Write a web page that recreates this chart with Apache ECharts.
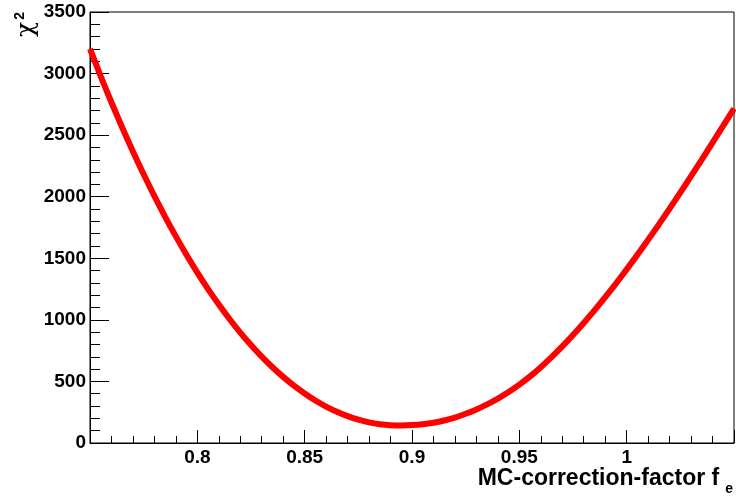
<!DOCTYPE html>
<html>
<head>
<meta charset="utf-8">
<title>chi2 scan</title>
<script src="https://cdn.jsdelivr.net/npm/echarts@6/dist/echarts.min.js"></script>
<style>
  html, body { margin: 0; padding: 0; background: #fff; }
  #chart { width: 736px; height: 498px; }
</style>
</head>
<body>
<div id="chart"></div>
<script>
// Scan of the electron MC-correction factor f_e against chi^2
const factorValues = [
  0.750, 0.755, 0.760, 0.765, 0.770, 0.775, 0.780, 0.785, 0.790, 0.795,
  0.800, 0.805, 0.810, 0.815, 0.820, 0.825, 0.830, 0.835, 0.840, 0.845,
  0.850, 0.855, 0.860, 0.865, 0.870, 0.875, 0.880, 0.885, 0.890, 0.895,
  0.900, 0.905, 0.910, 0.915, 0.920, 0.925, 0.930, 0.935, 0.940, 0.945,
  0.950, 0.955, 0.960, 0.965, 0.970, 0.975, 0.980, 0.985, 0.990, 0.995,
  1.000, 1.005, 1.010, 1.015, 1.020, 1.025, 1.030, 1.035, 1.040, 1.045,
  1.050
];
const chi2Values = [
  3200, 2978, 2765, 2562, 2367, 2182, 2005, 1837, 1678, 1527,
  1384, 1250, 1125, 1007, 897, 796, 701, 615, 537, 465,
  402, 345, 296, 254, 218, 190, 168, 153, 145, 143,
  146, 153, 165, 183, 207, 237, 273, 314, 361, 414,
  474, 541, 616, 697, 784, 877, 975, 1077, 1184, 1295,
  1410, 1528, 1650, 1775, 1903, 2034, 2167, 2302, 2439, 2577,
  2716
];
const xTicks = { min: 0.75, max: 1.05, step: 0.05 };
const yTicks = { min: 0, max: 3500, step: 500 };

const FONT = "'Liberation Sans', Arial, Helvetica, sans-serif";

const chart = echarts.init(document.getElementById('chart'), null, { renderer: 'canvas' });

chart.setOption({
  backgroundColor: '#ffffff',
  animation: false,
  grid: {
    left: 90, right: 1, top: 12, bottom: 55,
    show: true, borderColor: '#000', borderWidth: 1, backgroundColor: 'transparent'
  },
  xAxis: {
    type: 'value',
    min: xTicks.min, max: xTicks.max, interval: xTicks.step,
    axisLine: { show: true, onZero: false, lineStyle: { color: '#000', width: 1 } },
    axisTick: { show: true, inside: true, length: 13, lineStyle: { color: '#000' } },
    minorTick: { show: true, splitNumber: 5, length: 7, lineStyle: { color: '#000' } },
    splitLine: { show: false },
    axisLabel: {
      showMinLabel: false, showMaxLabel: false,
      margin: 5, color: '#000', fontFamily: FONT, fontWeight: 'bold', fontSize: 19,
      formatter: v => String(parseFloat(v.toFixed(2)))
    },
    name: '{a|MC-correction-factor f}{b|e}',
    nameLocation: 'end',
    nameGap: -1,
    nameTextStyle: {
      align: 'right', verticalAlign: 'top',
      padding: [24, 0, 0, 0],
      rich: {
        a: { fontFamily: FONT, fontWeight: 'bold', fontSize: 23, color: '#000', verticalAlign: 'top', lineHeight: 25 },
        b: { fontFamily: FONT, fontWeight: 'bold', fontSize: 14, color: '#000', verticalAlign: 'top', lineHeight: 14, padding: [15, 0, 0, 6] }
      }
    }
  },
  yAxis: {
    type: 'value',
    min: yTicks.min, max: yTicks.max, interval: yTicks.step,
    axisLine: { show: true, lineStyle: { color: '#000', width: 1 } },
    axisTick: { show: true, inside: true, length: 19, lineStyle: { color: '#000' } },
    minorTick: { show: true, splitNumber: 5, length: 10, lineStyle: { color: '#000' } },
    splitLine: { show: false },
    axisLabel: {
      margin: 4, color: '#000', fontFamily: FONT, fontWeight: 'bold', fontSize: 19,
      formatter: v => String(v)
    }
  },
  graphic: [{
    type: 'text',
    x: 39, y: 12,
    rotation: Math.PI / 2,
    style: {
      text: '{c|χ}{s|2}',
      align: 'right', verticalAlign: 'bottom',
      rich: {
        c: { fontFamily: "'DejaVu Serif', 'DejaVu Sans', serif", fontStyle: 'normal', fontSize: 25, fill: '#000', verticalAlign: 'bottom', lineHeight: 26 },
        s: { fontFamily: FONT, fontWeight: 'bold', fontSize: 14, fill: '#000', verticalAlign: 'top', lineHeight: 26, padding: [0, 0, 10, 2] }
      }
    }
  }],
  series: [{
    type: 'line',
    data: factorValues.map((f, i) => [f, chi2Values[i]]),
    smooth: 0.25,
    showSymbol: false,
    lineStyle: { color: '#ff0000', width: 6 },
    clip: true
  }]
});
</script>
</body>
</html>
